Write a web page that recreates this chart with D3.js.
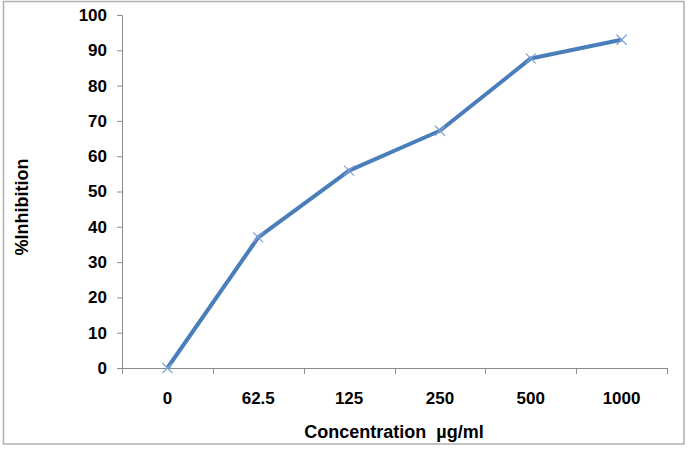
<!DOCTYPE html>
<html><head><meta charset="utf-8">
<script src="https://cdn.jsdelivr.net/npm/d3@7"></script>
<style>
html,body{margin:0;padding:0;background:#fff;}
svg{display:block;}
text{font-family:Arial,"Liberation Sans",sans-serif;font-weight:bold;fill:#000;}
</style></head>
<body>
<svg id="chart" width="691" height="450"></svg>
<script>
const categories = ["0", "62.5", "125", "250", "500", "1000"];
const inhibition = [0, 37.0, 55.9, 67.2, 87.7, 93.0];
const yTicks = [0, 10, 20, 30, 40, 50, 60, 70, 80, 90, 100];
const xTitle = "Concentration  µg/ml";
const yTitle = "%Inhibition";

const svg = d3.select("#chart");
const plotLeft = 122, plotRight = 667, plotTop = 15, plotBottom = 368;

svg.append("rect").attr("x", 3.5).attr("y", 1.5).attr("width", 680.5).attr("height", 442.5)
  .attr("fill", "#fff").attr("stroke", "#b0b0b0").attr("stroke-width", 1.5);

const x = d3.scaleBand().domain(categories).range([plotLeft, plotRight]);
const y = d3.scaleLinear().domain([0, 100]).range([plotBottom, plotTop]);

const axisColor = "#8c8c8c";

// Y axis
const yAxis = svg.append("g").attr("transform", `translate(${plotLeft},0)`)
  .call(d3.axisLeft(y).tickValues(yTicks).tickSize(5).tickPadding(10));
yAxis.selectAll("line, path").attr("stroke", axisColor);
yAxis.selectAll("text").attr("font-size", 17).attr("font-family", "Arial, 'Liberation Sans', sans-serif").attr("font-weight", "bold").attr("fill", "#000");

// X axis with ticks at band boundaries
const xg = svg.append("g").attr("transform", `translate(0,${plotBottom})`);
xg.append("line").attr("x1", plotLeft).attr("x2", plotRight).attr("y1", 0.5).attr("y2", 0.5).attr("stroke", axisColor);
const boundaries = categories.map(c => x(c)).concat([x(categories[categories.length-1]) + x.bandwidth()]);
xg.selectAll("line.tk").data(boundaries).join("line").attr("class", "tk")
  .attr("x1", d => Math.round(d) + 0.5).attr("x2", d => Math.round(d) + 0.5)
  .attr("y1", 0).attr("y2", 6).attr("stroke", axisColor);
xg.selectAll("text").data(categories).join("text")
  .attr("x", d => x(d) + x.bandwidth() / 2).attr("y", 36)
  .attr("text-anchor", "middle").attr("font-size", 17).text(d => d);

// Line
const pts = categories.map((c, i) => [x(c) + x.bandwidth() / 2, y(inhibition[i])]);
svg.append("path").datum(pts)
  .attr("d", d3.line())
  .attr("fill", "none").attr("stroke", "#4a7ebb").attr("stroke-width", 4)
  .attr("stroke-linejoin", "round");

// Markers (x)
const m = 5;
svg.selectAll("path.mk").data(pts).join("path").attr("class", "mk")
  .attr("d", d => `M${d[0]-m},${d[1]-m}L${d[0]+m},${d[1]+m}M${d[0]-m},${d[1]+m}L${d[0]+m},${d[1]-m}`)
  .attr("stroke", "#7ea3d6").attr("stroke-width", 1.2).attr("fill", "none");

// Titles
svg.append("text").attr("x", 394).attr("y", 438).attr("text-anchor", "middle")
  .attr("font-size", 18).style("white-space", "pre").text(xTitle);
svg.append("text").attr("transform", "translate(28,207) rotate(-90)")
  .attr("text-anchor", "middle").attr("font-size", 18).text(yTitle);
</script>
</body></html>
